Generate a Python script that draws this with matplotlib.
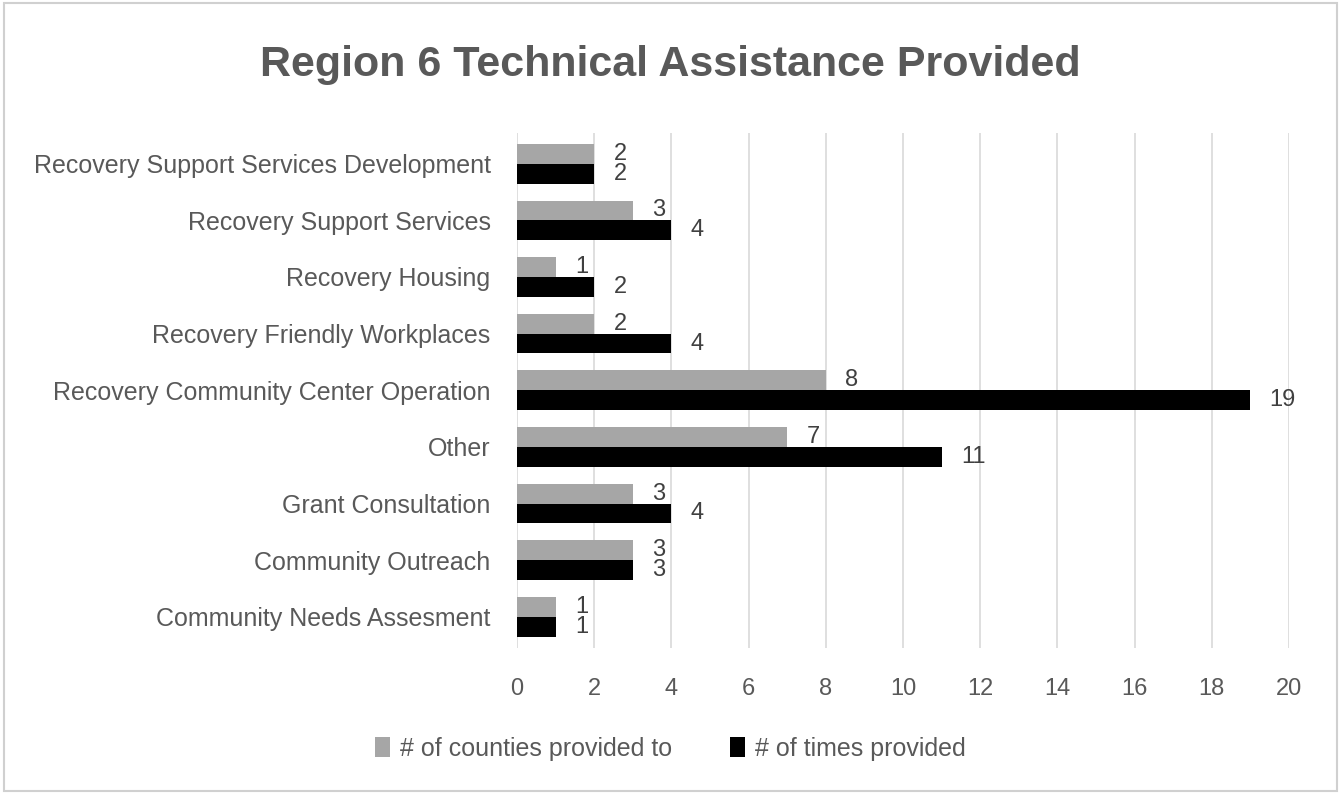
import numpy as np
import matplotlib.pyplot as plt
from matplotlib.patches import Rectangle

# dados (de cima para baixo)
categorias = ["Recovery Support Services Development", "Recovery Support Services",
              "Recovery Housing", "Recovery Friendly Workplaces",
              "Recovery Community Center Operation", "Other", "Grant Consultation",
              "Community Outreach", "Community Needs Assesment"]
condados = [2, 3, 1, 2, 8, 7, 3, 3, 1]
vezes = [2, 4, 2, 4, 19, 11, 4, 3, 1]
serie_nomes = ["# of counties provided to", "# of times provided"]
ticks_x = list(range(0, 21, 2))

cinza_texto = "#595959"
plt.rcParams['font.family'] = ['Liberation Sans', 'DejaVu Sans']

fig = plt.figure(figsize=(13.41, 7.94), dpi=100)
ax = fig.add_axes([0.3855, 0.184, 0.5757, 0.649])

n = len(categorias)
y = np.arange(n)[::-1]
h = 0.35

b1 = ax.barh(y + h / 2, condados, height=h, color="#a6a6a6", label=serie_nomes[0], zorder=3)
b2 = ax.barh(y - h / 2, vezes, height=h, color="#000000", label=serie_nomes[1], zorder=3)

for barras, vals in ((b1, condados), (b2, vezes)):
    for b, v in zip(barras, vals):
        ax.text(v + 0.5, b.get_y() + b.get_height() / 2, str(v), va="center", ha="left",
                fontsize=17, color="#404040")

ax.set_xlim(0, 20)
ax.set_ylim(-0.55, n - 0.45)
ax.set_xticks(ticks_x)
ax.set_yticks(y)
ax.set_yticklabels(categorias)
ax.tick_params(axis="both", length=0, labelsize=18, colors=cinza_texto)
ax.tick_params(axis="x", labelsize=17, pad=22)
ax.tick_params(axis="y", pad=19)
ax.grid(axis="x", color="#d9d9d9", linewidth=1.2, zorder=0)
for s in ax.spines.values():
    s.set_visible(False)

fig.text(0.5, 0.918, "Region 6 Technical Assistance Provided", ha="center", va="center",
         fontsize=31, fontweight="bold", color=cinza_texto)

leg = fig.legend(loc="center", bbox_to_anchor=(0.5, 0.057), ncol=2, frameon=False,
                 fontsize=18, handlelength=0.6, handleheight=0.8, columnspacing=2.3,
                 handletextpad=0.4)
for t in leg.get_texts():
    t.set_color(cinza_texto)

# moldura
fig.patches.append(Rectangle((0.003, 0.004), 0.994, 0.992, transform=fig.transFigure,
                             fill=False, edgecolor="#d0d0d0", linewidth=1.5))

fig.savefig("out.png", dpi=100)
